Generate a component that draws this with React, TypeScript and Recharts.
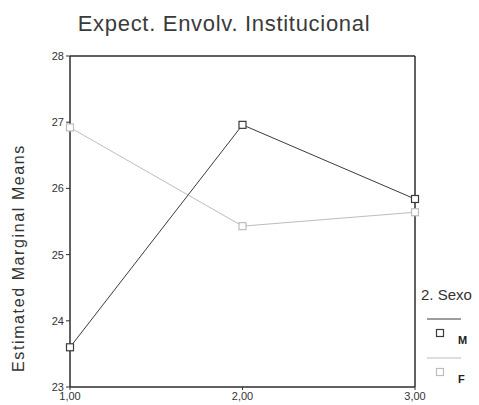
import { LineChart, Line, XAxis, YAxis, ReferenceLine, Legend } from 'recharts';

const levels = [1, 2, 3];
const seriesM = [23.6, 26.96, 25.84];
const seriesF = [26.92, 25.43, 25.64];
const yTicks = [23, 24, 25, 26, 27, 28];
const legendOrder = ['M', 'F'];

const rows = levels.map((x, i) => ({ x, M: seriesM[i], F: seriesF[i] }));

const DARK = '#3a3a3a';
const LIGHT = '#bdbdbd';
const AXIS = '#2e2e2e';
const FONT = "'Liberation Sans', Arial, sans-serif";

const comma = (v: number) => v.toFixed(2).replace('.', ',');

function squareDot(color: string) {
  return (props: any) => {
    const { cx, cy, index } = props;
    return (
      <rect key={index} x={cx - 3.5} y={cy - 3.5} width={7} height={7} fill="#fff" stroke={color} strokeWidth={1.2} />
    );
  };
}

function SexoLegend({ payload }: any) {
  const items = [...(payload || [])].sort(
    (a: any, b: any) => legendOrder.indexOf(a.value) - legendOrder.indexOf(b.value)
  );
  return (
    <svg width={64} height={110} style={{ display: 'block' }}>
      <text x={6} y={20} fontSize={15} fill="#333" fontFamily={FONT}>2. Sexo</text>
      {items.map((p: any, i: number) => (
        <g key={p.value} transform={`translate(0, ${i * 39})`}>
          <line x1={12} x2={46} y1={39} y2={39} stroke={p.color} strokeWidth={1} />
          <rect x={21.5} y={49.5} width={7} height={7} fill="#fff" stroke={p.color} strokeWidth={1.2} />
          <text x={43} y={64} fontSize={11} fill="#222" fontFamily={FONT} fontWeight="bold">{p.value}</text>
        </g>
      ))}
    </svg>
  );
}

function YLabel() {
  return (
    <text
      x={24}
      y={258}
      transform="rotate(-90 24 258)"
      textAnchor="middle"
      fontSize={16}
      letterSpacing={1.6}
      fill="#333"
      fontFamily={FONT}
    >
      Estimated Marginal Means
    </text>
  );
}

export default function App() {
  return (
    <div style={{ position: 'absolute', left: 0, top: 0, width: 479, height: 405, background: '#fff', fontFamily: FONT }}>
      <div
        style={{
          position: 'absolute',
          left: 0,
          top: 9,
          width: 448,
          textAlign: 'center',
          fontSize: 22,
          letterSpacing: 0.7,
          lineHeight: '30px',
          color: '#3a3a3a',
        }}
      >
        Expect. Envolv. Institucional
      </div>
      <LineChart width={479} height={405} data={rows} margin={{ top: 56, right: 64, bottom: 0, left: 40 }}>
        <XAxis
          dataKey="x"
          type="number"
          domain={[1, 3]}
          ticks={levels}
          tickFormatter={comma}
          height={18}
          tickSize={3}
          axisLine={{ stroke: AXIS, strokeWidth: 1.5 }}
          tickLine={{ stroke: AXIS }}
          tick={{ fontSize: 11, fill: '#333', fontFamily: FONT }}
        />
        <YAxis
          type="number"
          domain={[23, 28]}
          ticks={yTicks}
          width={30}
          tickSize={4}
          axisLine={{ stroke: AXIS, strokeWidth: 1.5 }}
          tickLine={{ stroke: AXIS }}
          tick={{ fontSize: 11, fill: '#333', fontFamily: FONT }}
          label={<YLabel />}
        />
        <ReferenceLine y={28} stroke={AXIS} strokeWidth={1.5} />
        <ReferenceLine x={3} stroke={AXIS} strokeWidth={1.5} />
        <Legend
          layout="horizontal"
          verticalAlign="middle"
          align="center"
          wrapperStyle={{ left: 415, top: 280, width: 64 }}
          content={<SexoLegend />}
        />
        <Line
          dataKey="M"
          name="M"
          stroke={DARK}
          strokeWidth={1}
          dot={squareDot(DARK)}
          activeDot={false}
          isAnimationActive={false}
        />
        <Line
          dataKey="F"
          name="F"
          stroke={LIGHT}
          strokeWidth={1}
          dot={squareDot(LIGHT)}
          activeDot={false}
          isAnimationActive={false}
        />
      </LineChart>
    </div>
  );
}
